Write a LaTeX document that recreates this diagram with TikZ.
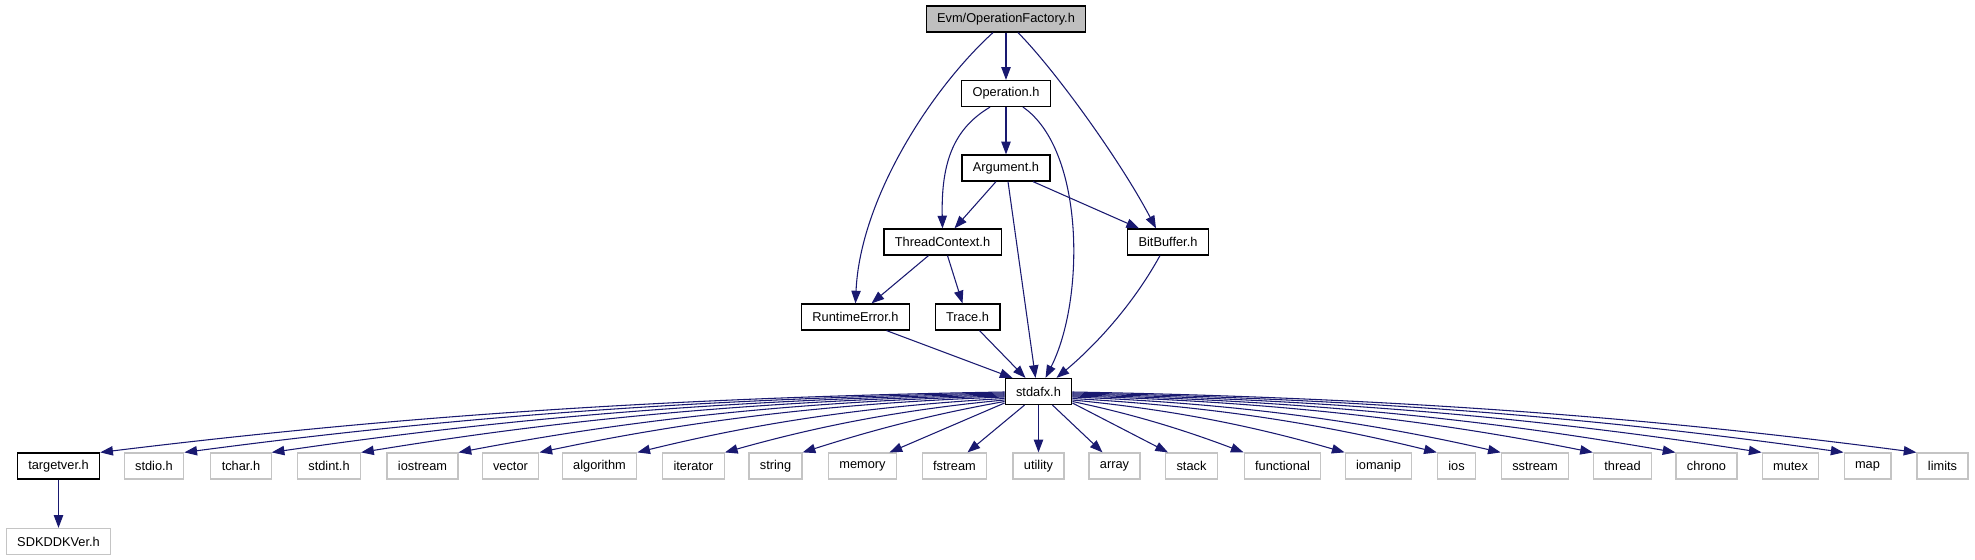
\documentclass[tikz,border=0pt]{standalone}
\usepackage{fontspec}
\setmainfont{Liberation Sans}
\usepackage{xcolor}
\definecolor{edgeblue}{HTML}{191970}
\definecolor{rootgray}{HTML}{BFBFBF}
\definecolor{sysgray}{HTML}{C4C4C4}
\usetikzlibrary{arrows.meta,calc}
\tikzset{
  >={Triangle[length=9.5pt,width=7pt]},
  hdr/.style ={draw=black,line width=0.9pt,fill=white,inner xsep=8.2pt,
               inner ysep=0pt,minimum height=19.5pt},
  root/.style={hdr,fill=rootgray},
  sys/.style ={hdr,draw=sysgray},
  incl/.style={->,draw=edgeblue,line width=0.8pt},
}

\begin{document}
\begin{tikzpicture}[x=0.75pt,y=-0.75pt,font=\fontsize{9.6}{11}\selectfont]
\useasboundingbox (0,0) rectangle (1975,560);

% project headers
\node[root] (evm)    at (1006,19)    {Evm/OperationFactory.h};
\node[hdr]  (op)     at (1006,93.5)  {Operation.h};
\node[hdr]  (arg)    at (1006,168)   {Argument.h};
\node[hdr]  (tc)     at (942.5,242)  {ThreadContext.h};
\node[hdr]  (bitbuf) at (1168,242)   {BitBuffer.h};
\node[hdr]  (rte)    at (855.5,317)  {RuntimeError.h};
\node[hdr]  (trace)  at (967.5,317)  {Trace.h};
\node[hdr]  (stdafx) at (1038.5,391.5) {stdafx.h};
\node[hdr]  (targetver) at (58.5,466)   {targetver.h};
\node[sys]  (sdkddkver) at (58.5,541.5) {SDKDDKVer.h};

% system headers (bottom row)
\foreach \nm/\x/\txt in {stdio/154/stdio.h, tchar/241/tchar.h, stdint/329/stdint.h,
    iostream/422.5/iostream, vector/510.5/vector, algorithm/599.5/algorithm,
    iterator/693.5/iterator, string/775.5/string, memory/862.5/memory,
    fstream/954.5/fstream, utility/1038.5/utility, array/1114.5/array,
    stack/1191.5/stack, functional/1282.5/functional, iomanip/1378.5/iomanip,
    ios/1456.5/ios, sstream/1535/sstream, thread/1622.5/thread,
    chrono/1706.5/chrono, mutex/1790.5/mutex, map/1867.5/map, limits/1942.5/limits}
  \node[sys] (\nm) at (\x,466) {\txt};

% includes above stdafx.h
\draw[incl] (evm) -- (op);
\draw[incl] ($(evm.south)+(-13,0)$) .. controls (930,90) and (860,200) .. (rte.north);
\draw[incl] ($(evm.south)+(12,0)$) .. controls (1055,70) and (1120,160) .. ($(bitbuf.north)+(-12,0)$);
\draw[incl] (op) -- (arg);
\draw[incl] ($(op.south)+(-16,0)$) .. controls (955,128) and (941,160) .. (tc.north);
\draw[incl] ($(op.south)+(17,0)$) .. controls (1085,150) and (1085,300) .. ($(stdafx.north)+(7,0)$);
\draw[incl] ($(arg.south)+(-10,0)$) -- ($(tc.north)+(12,0)$);
\draw[incl] ($(arg.south)+(27,0)$) -- ($(bitbuf.north)+(-29,0)$);
\draw[incl] ($(arg.south)+(2,0)$) -- ($(stdafx.north)+(-3,0)$);
\draw[incl] ($(tc.south)+(-14,0)$) -- ($(rte.north)+(16,0)$);
\draw[incl] ($(tc.south)+(5,0)$) -- ($(trace.north)+(-5,0)$);
\draw[incl] ($(rte.south)+(31,0)$) -- ($(stdafx.north)+(-26,0)$);
\draw[incl] ($(trace.south)+(12,0)$) -- ($(stdafx.north)+(-13,0)$);
\draw[incl] ($(bitbuf.south)+(-8,0)$) .. controls (1130,310) and (1090,350) .. ($(stdafx.north)+(18,0)$);
\draw[incl] (targetver) -- (sdkddkver);

% fan-out of stdafx.h (\ka,\kb: how far down the two control points sit)
\foreach \nm/\sa/\sdx/\sdy/\ea/\edx/\ka/\kb in {
    targetver/west/0/0.5/north east/0/0.1/0.45,
    stdio/west/0/1.5/north east/0/0.1/0.45, tchar/west/0/2.5/north east/0/0.1/0.45,
    stdint/west/0/3.5/north east/0/0.1/0.45, iostream/west/0/4.5/north east/0/0.1/0.45,
    vector/west/0/5.5/north east/0/0.12/0.47, algorithm/west/0/7/north east/0/0.15/0.5,
    iterator/west/0/8.5/north east/0/0.2/0.55, string/west/0/10/north east/0/0.28/0.62,
    memory/west/0/11.5/north/27/0.4/0.7, fstream/south/-14/0/north/13/0.4/0.7,
    utility/south/0/0/north/0/0.4/0.7, array/south/14/0/north/-12/0.4/0.7,
    stack/east/0/11.5/north west/3/0.4/0.7, functional/east/0/10/north west/0/0.28/0.62,
    iomanip/east/0/8.5/north west/0/0.2/0.55, ios/east/0/7/north west/0/0.15/0.5,
    sstream/east/0/5.5/north west/0/0.12/0.47, thread/east/0/4.5/north west/0/0.1/0.45,
    chrono/east/0/3.5/north west/0/0.1/0.45, mutex/east/0/2.5/north west/0/0.1/0.45,
    map/east/0/1.5/north west/0/0.1/0.45, limits/east/0/0.5/north west/0/0.1/0.45}
  \draw[incl] let \p1=($(stdafx.\sa)+(\sdx,\sdy)$), \p2=($(\nm.\ea)+(\edx,0)$) in
    (\p1) .. controls ({\x1+0.4*(\x2-\x1)},{\y1+\ka*(\y2-\y1)})
             and ({\x1+0.7*(\x2-\x1)},{\y1+\kb*(\y2-\y1)}) .. (\p2);
\end{tikzpicture}
\end{document}
